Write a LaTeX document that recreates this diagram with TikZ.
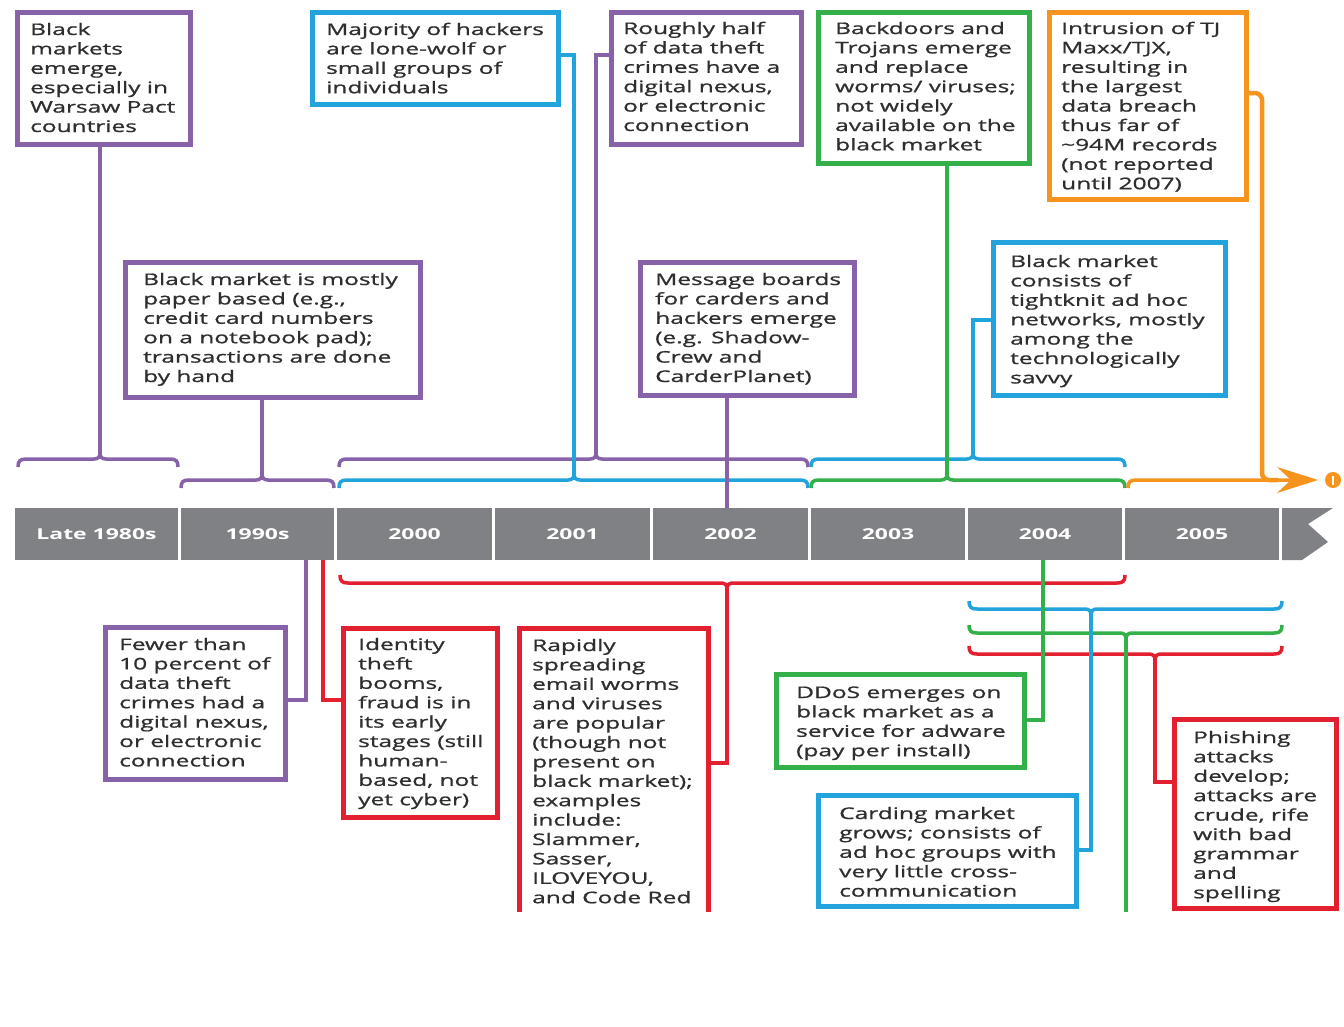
\documentclass[tikz,border=0pt]{standalone}
\usepackage{fontspec}
\setmainfont{Open Sans}[FakeStretch=1.53]
\newfontfamily\boxfont{Open Sans}[FakeStretch=1.53, FakeBold=1]
\usetikzlibrary{calc}
\definecolor{cpur}{HTML}{8862A9}
\definecolor{cblu}{HTML}{22A3DC}
\definecolor{cgrn}{HTML}{33B04A}
\definecolor{corg}{HTML}{F7941D}
\definecolor{cred}{HTML}{E3202F}
\definecolor{cbar}{HTML}{808184}
\definecolor{ctxt}{HTML}{2E2E2E}
\tikzset{
  tbox/.style={draw=#1, line width=5pt, fill=white, inner sep=0pt},
  ttext/.style={anchor=base west, inner sep=0pt, text=ctxt, font=\boxfont\fontsize{16}{19.4}\selectfont},
  conn/.style={draw=#1, line width=4.5pt},
  brk/.style={draw=#1, line width=3.5pt},
  seg/.style={fill=cbar, inner sep=0pt, text=white, font=\bfseries\fontsize{15}{17}\selectfont},
}
\newcommand\tbx[8]{%
  \pgfmathsetmacro\bw{#5-#3-5}\pgfmathsetmacro\bh{#6-#4-5}%
  \node[tbox=#2, minimum width=\bw pt, minimum height=\bh pt] (#1) at ({(#3+#5)/2},{(#4+#6)/2}) {};
  \node[ttext] (#1t) at (#7) {\vtop{\hsize=400pt\parindent=0pt\raggedright #8\par}};
}
\newcommand\brkt[6]{%
  \draw[brk=#1] ({#2},{#4+8*(#6)}) .. controls ({#2},{#4+2*(#6)}) and ({#2+2},{#4}) .. ({#2+8},{#4})
    -- ({#5-6},{#4}) .. controls ({#5-2},{#4}) and ({#5},{#4-2*(#6)}) .. ({#5},{#4-6*(#6)})
    .. controls ({#5},{#4-2*(#6)}) and ({#5+2},{#4}) .. ({#5+6},{#4})
    -- ({#3-8},{#4}) .. controls ({#3-2},{#4}) and ({#3},{#4+2*(#6)}) .. ({#3},{#4+8*(#6)});
}
\begin{document}
\begin{tikzpicture}[x=1pt,y=-1pt]
\useasboundingbox[fill=white] (0,0) rectangle (1344,1026);
\begin{scope}
\clip (0,0) rectangle (1344,911);

% timeline bar
\node[seg, minimum width=163pt, minimum height=52pt] (s80) at (96.5,534) {Late 1980s};
\node[seg, minimum width=153pt, minimum height=52pt] (s90) at (257.5,534) {1990s};
\node[seg, minimum width=155pt, minimum height=52pt] (s00) at (414.5,534) {2000};
\node[seg, minimum width=155pt, minimum height=52pt] (s01) at (572.5,534) {2001};
\node[seg, minimum width=155pt, minimum height=52pt] (s02) at (730.5,534) {2002};
\node[seg, minimum width=154pt, minimum height=52pt] (s03) at (888,534) {2003};
\node[seg, minimum width=154pt, minimum height=52pt] (s04) at (1045,534) {2004};
\node[seg, minimum width=154pt, minimum height=52pt] (s05) at (1202,534) {2005};
\fill[cbar] (1282,508) -- (1333,508) -- (1308,524) -- (1328,542) -- (1302,560) -- (1282,560) -- cycle;

% boxes
\tbx{b1}{cpur}{15}{10}{193}{147}{30,35}{Black\\markets\\emerge,\\especially in\\Warsaw Pact\\countries}
\tbx{b2}{cblu}{310}{10}{561}{107}{326,35}{Majority of hackers\\are lone-wolf or\\small groups of\\individuals}
\tbx{b3}{cpur}{609}{10}{804}{147}{623,34}{Roughly half\\of data theft\\crimes have a\\digital nexus,\\or electronic\\connection}
\tbx{b4}{cgrn}{816}{10}{1032}{166}{835,34}{Backdoors and\\Trojans emerge\\and replace\\worms/ viruses;\\not widely\\available on the\\black market}
\tbx{b5}{corg}{1047}{10}{1249}{202}{1061,34}{Intrusion of TJ\\Maxx/TJX,\\resulting in\\the largest\\data breach\\thus far of\\\textasciitilde94M records\\(not reported\\until 2007)}
\tbx{b6}{cpur}{123}{260}{423}{400}{143,285}{Black market is mostly\\paper based (e.g.,\\credit card numbers\\on a notebook pad);\\transactions are done\\by hand}
\tbx{b7}{cpur}{638}{260}{857}{398}{655,285}{Message boards\\for carders and\\hackers emerge\\(e.g. Shadow-\\Crew and\\CarderPlanet)}
\tbx{b8}{cblu}{991}{240}{1228}{398}{1010,267}{Black market\\consists of\\tightknit ad hoc\\networks, mostly\\among the\\technologically\\savvy}
\tbx{b9}{cpur}{103}{625}{288}{782}{119,650}{Fewer than\\10 percent of\\data theft\\crimes had a\\digital nexus,\\or electronic\\connection}
\tbx{b10}{cred}{341}{626}{500}{820}{358,650}{Identity\\theft\\booms,\\fraud is in\\its early\\stages (still\\human-\\based, not\\yet cyber)}
\tbx{b11}{cred}{517}{626}{711}{930}{532,651}{Rapidly\\spreading\\email worms\\and viruses\\are popular\\(though not\\present on\\black market);\\examples\\include:\\Slammer,\\Sasser,\\ILOVEYOU,\\and Code Red}
\tbx{b12}{cgrn}{774}{672}{1027}{770}{796,698}{DDoS emerges on\\black market as a\\service for adware\\(pay per install)}
\tbx{b13}{cblu}{816}{793}{1079}{909}{839,819}{Carding market\\grows; consists of\\ad hoc groups with\\very little cross-\\communication}
\tbx{b14}{cred}{1172}{717}{1339}{911}{1193,743}{Phishing\\attacks\\develop;\\attacks are\\crude, rife\\with bad\\grammar\\and\\spelling}

% brackets above the bar
\brkt{cpur}{18}{178}{459}{100}{1}
\brkt{cpur}{181}{334}{480}{262}{1}
\brkt{cpur}{339}{808}{459}{596}{1}
\brkt{cblu}{339}{808}{480}{574}{1}
\brkt{cblu}{811}{1125}{459}{973}{1}
\brkt{cgrn}{811}{1125}{480}{947}{1}
\draw[brk=corg] (1128,488) .. controls (1128,482) and (1130,480) .. (1136,480) -- (1295,480);
\fill[corg] (1318,480) -- (1277,467) -- (1291,480) -- (1277,493) -- cycle;
\node[circle, fill=corg, minimum size=16pt, inner sep=0pt] (alert) at (1333,480) {};
\draw[white, line width=2pt] (alert.center) ++(0,-4.5) -- ++(0,9);

% brackets below the bar
\brkt{cred}{340}{1125}{583}{727}{-1}
\brkt{cblu}{969}{1282}{609}{1091}{-1}
\brkt{cgrn}{969}{1282}{633}{1126}{-1}
\brkt{cred}{969}{1282}{654}{1155}{-1}

% bracket centres
\coordinate (p80) at (100,453);
\coordinate (p90) at (262,474);
\coordinate (p02u) at (596,453);
\coordinate (b02u) at (574,474);
\coordinate (b04u) at (973,453);
\coordinate (g04u) at (947,474);
\coordinate (r04d) at (727,589);
\coordinate (b05d) at (1091,615);
\coordinate (g05d) at (1126,639);
\coordinate (r05d) at (1155,660);
\coordinate (k2) at (574,55);
\coordinate (k3) at (596,55);
\coordinate (k5) at (1262,93);
\coordinate (k8) at (973,320);
\coordinate (k9) at (306,700);
\coordinate (k10) at (323,700);
\coordinate (k11) at (727,763);
\coordinate (k12) at (1043,720);
\coordinate (k13) at (1091,850);
\coordinate (k14) at (1155,782);

% connectors
\draw[conn=cpur] (b1.south -| p80) -- (p80);
\draw[conn=cpur] (b6.south -| p90) -- (p90);
\draw[conn=cblu] (b2.east |- k2) -- (k2) -- (b02u);
\draw[conn=cpur] (b3.west |- k3) -- (k3) -- (p02u);
\draw[conn=cgrn] (b4.south -| g04u) -- (g04u);
\draw[conn=cblu] (b8.west |- k8) -- (k8) -- (b04u);
\draw[conn=corg, rounded corners=7pt] (b5.east |- k5) -- (k5) -- (1262,480) -- (1278,480);
\draw[conn=cpur] (b7.south -| 727,0) -- (s02.north -| 727,0);
\draw[conn=cpur] (s90.south -| k9) -- (k9) -- (b9.east |- k9);
\draw[conn=cred] (s90.south -| k10) -- (k10) -- (b10.west |- k10);
\draw[conn=cred] (r04d) -- (k11) -- (b11.east |- k11);
\draw[conn=cred] (r05d) -- (k14) -- (b14.west |- k14);
\draw[conn=cgrn] (g05d) -- (1126,915);
\draw[conn=cblu] (b05d) -- (k13) -- (b13.east |- k13);
\draw[conn=cgrn] (s04.south -| k12) -- (k12) -- (b12.east |- k12);
\end{scope}
\end{tikzpicture}
\end{document}
